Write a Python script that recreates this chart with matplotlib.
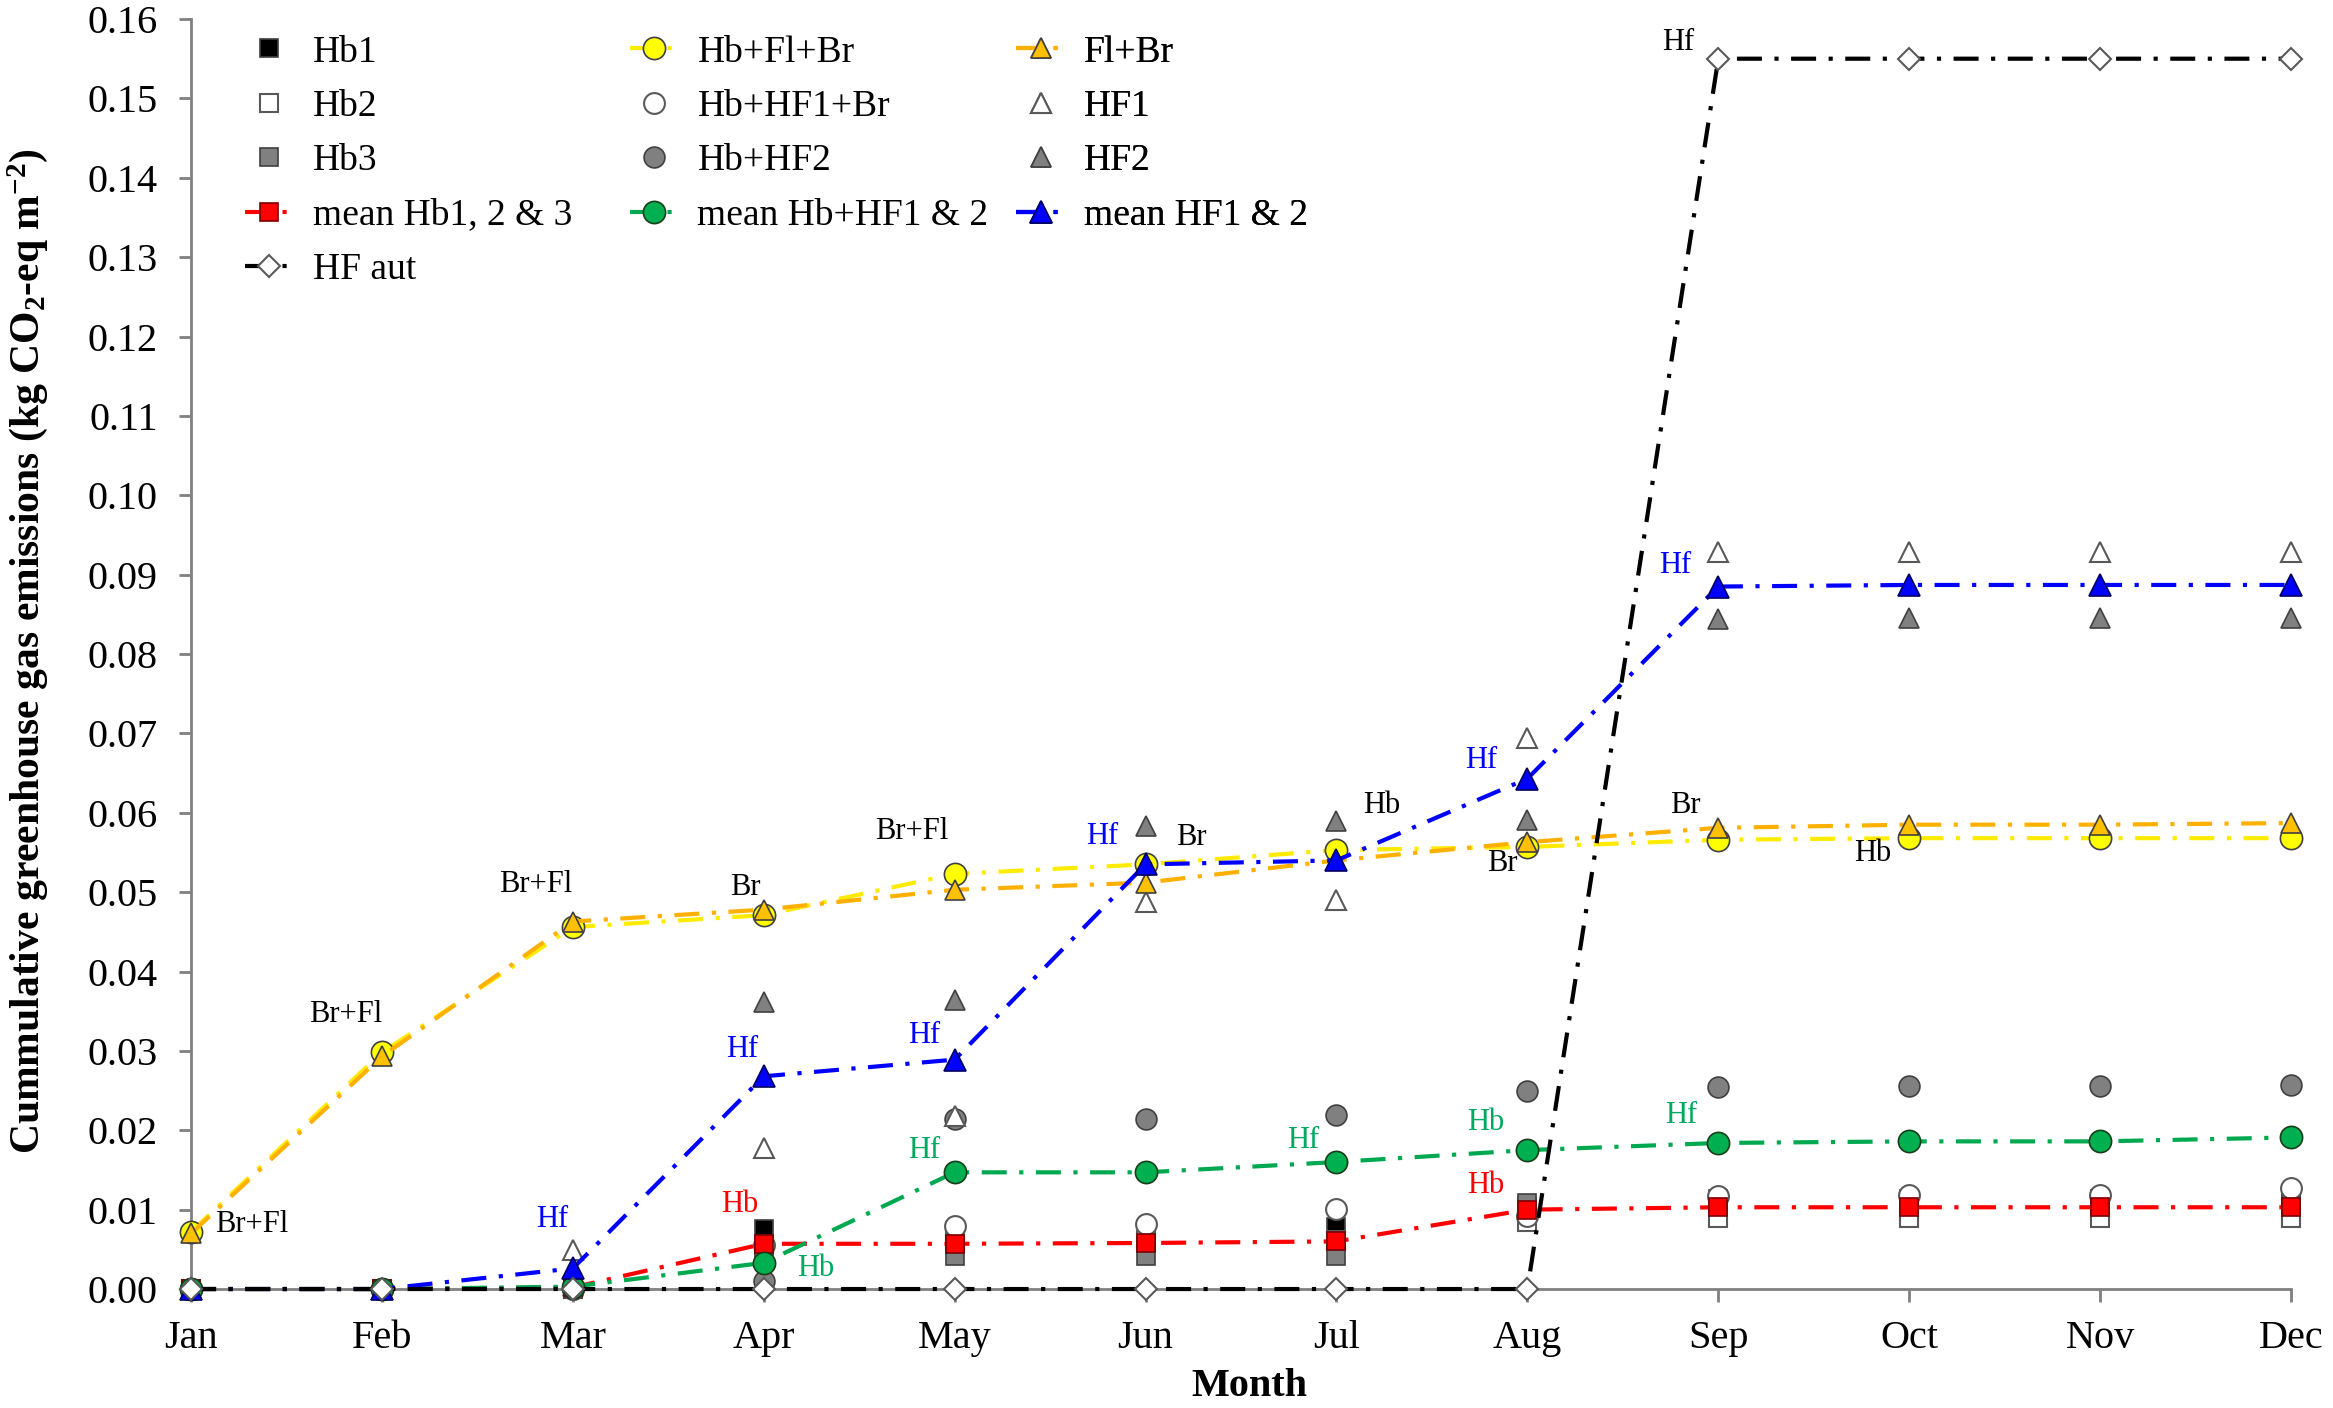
import matplotlib
matplotlib.use('Agg')
import matplotlib.pyplot as plt

plt.rcParams['font.family'] = ['Liberation Serif', 'DejaVu Serif']
plt.rcParams['mathtext.fontset'] = 'custom'
plt.rcParams['mathtext.rm'] = 'Liberation Serif:bold'
plt.rcParams['mathtext.bf'] = 'Liberation Serif:bold'
plt.rcParams['mathtext.default'] = 'rm'

months = ['Jan', 'Feb', 'Mar', 'Apr', 'May', 'Jun', 'Jul', 'Aug', 'Sep', 'Oct', 'Nov', 'Dec']

hb1 = [0, 0, 0, 0.0075, 0.0060, 0.0060, 0.0078, 0.0105, 0.0107, 0.0107, 0.0107, 0.0107]
hb2 = [0, 0, 0, 0.0055, 0.0062, 0.0062, 0.0062, 0.0085, 0.0090, 0.0090, 0.0090, 0.0090]
hb3 = [0, 0, 0, 0.0042, 0.0042, 0.0042, 0.0042, 0.0109, 0.0113, 0.0113, 0.0113, 0.0113]
mean_hb = [0, 0, 0.0002, 0.0057, 0.0057, 0.0058, 0.0060, 0.0100, 0.0103, 0.0103, 0.0103, 0.0103]
hb_fl_br = [0.0072, 0.0298, 0.0456, 0.0471, 0.0523, 0.0535, 0.0553, 0.0557, 0.0566, 0.0568, 0.0568, 0.0568]
hb_hf1_br = [0, 0, 0, 0.0055, 0.0079, 0.0082, 0.0101, 0.0092, 0.0117, 0.0119, 0.0119, 0.0127]
hb_hf2 = [0, 0, 0, 0.0010, 0.0214, 0.0214, 0.0219, 0.0249, 0.0255, 0.0256, 0.0256, 0.0257]
mean_hb_hf = [0, 0, 0.0003, 0.0033, 0.0147, 0.0147, 0.0160, 0.0175, 0.0184, 0.0186, 0.0186, 0.0191]
fl_br = [0.0070, 0.0293, 0.0463, 0.0478, 0.0503, 0.0512, 0.0540, 0.0563, 0.0581, 0.0585, 0.0585, 0.0587]
hf1 = [0, 0, 0.0049, 0.0178, 0.0218, 0.0488, 0.0490, 0.0694, 0.0929, 0.0929, 0.0929, 0.0929]
hf2 = [0, 0, 0.0004, 0.0362, 0.0364, 0.0583, 0.0589, 0.0591, 0.0844, 0.0845, 0.0845, 0.0845]
mean_hf = [0, 0, 0.0026, 0.0268, 0.0289, 0.0535, 0.0540, 0.0643, 0.0885, 0.0887, 0.0887, 0.0887]
hf_aut = [0, 0, 0, 0, 0, 0, 0, 0, 0.155, 0.155, 0.155, 0.155]

series = {
    'hb1': hb1, 'hb2': hb2, 'hb3': hb3, 'mean_hb': mean_hb,
    'hb_fl_br': hb_fl_br, 'hb_hf1_br': hb_hf1_br, 'hb_hf2': hb_hf2,
    'mean_hb_hf': mean_hb_hf, 'fl_br': fl_br, 'hf1': hf1, 'hf2': hf2,
    'mean_hf': mean_hf, 'hf_aut': hf_aut,
}

# annotations: text, series, month index, offset x px, offset y px, colour
notes = [
    ('Br+Fl', 'fl_br', 0, 61, 9, 'black'),
    ('Br+Fl', 'fl_br', 1, -36, 42, 'black'),
    ('Br+Fl', 'fl_br', 2, -37, 37, 'black'),
    ('Br', 'fl_br', 3, -18, 22, 'black'),
    ('Br+Fl', 'hb_fl_br', 4, -43, 42, 'black'),
    ('Hf', 'mean_hf', 5, -43, 28, '#0000FF'),
    ('Br', 'mean_hf', 5, 46, 27, 'black'),
    ('Hb', 'hb_fl_br', 6, 45, 45, 'black'),
    ('Hf', 'mean_hf', 7, -46, 18, '#0000FF'),
    ('Br', 'fl_br', 7, -25, -21, 'black'),
    ('Br', 'fl_br', 8, -33, 22, 'black'),
    ('Hb', 'hb_fl_br', 9, -36, -15, 'black'),
    ('Hf', 'mean_hf', 8, -43, 21, '#0000FF'),
    ('Hf', 'hf_aut', 8, -40, 16, 'black'),
    ('Hf', 'mean_hf', 2, -21, 49, '#0000FF'),
    ('Hf', 'mean_hf', 3, -22, 27, '#0000FF'),
    ('Hf', 'mean_hf', 4, -30, 24, '#0000FF'),
    ('Hb', 'mean_hb', 3, -24, 39, '#FF0000'),
    ('Hb', 'mean_hb_hf', 3, 52, -6, '#00A860'),
    ('Hf', 'mean_hb_hf', 4, -30, 22, '#00A860'),
    ('Hf', 'mean_hb_hf', 6, -33, 22, '#00A860'),
    ('Hb', 'mean_hb_hf', 7, -42, 28, '#00A860'),
    ('Hb', 'mean_hb', 7, -42, 24, '#FF0000'),
    ('Hf', 'mean_hb_hf', 8, -37, 27, '#00A860'),
]

fig = plt.figure(figsize=(23.33, 14.08), dpi=100)
ax = fig.add_axes([0.0819, 0.0845, 0.9001, 0.902])
x = list(range(len(months)))
dd = (0, (6, 3, 1, 3))
EC = '#404040'

h = {}
h['hb1'], = ax.plot(x, hb1, ls='none', marker='s', ms=13, mfc='black', mec=EC, mew=1.2, label='Hb1', clip_on=False, zorder=3)
h['hb2'], = ax.plot(x, hb2, ls='none', marker='s', ms=13, mfc='white', mec='#595959', mew=1.5, label='Hb2', clip_on=False, zorder=3)
h['hb3'], = ax.plot(x, hb3, ls='none', marker='s', ms=13, mfc='#808080', mec=EC, mew=1.2, label='Hb3', clip_on=False, zorder=3)
h['hb_hf1_br'], = ax.plot(x, hb_hf1_br, ls='none', marker='o', ms=15, mfc='white', mec='#595959', mew=1.5, label='Hb+HF1+Br', clip_on=False, zorder=3)
h['hb_hf2'], = ax.plot(x, hb_hf2, ls='none', marker='o', ms=15, mfc='#808080', mec=EC, mew=1.2, label='Hb+HF2', clip_on=False, zorder=3)
h['hf1'], = ax.plot(x, hf1, ls='none', marker='^', ms=14, mfc='white', mec='#595959', mew=1.5, label='HF1', clip_on=False, zorder=3)
h['hf2'], = ax.plot(x, hf2, ls='none', marker='^', ms=14, mfc='#808080', mec=EC, mew=1.2, label='HF2', clip_on=False, zorder=3)
h['hb_fl_br'], = ax.plot(x, hb_fl_br, ls=dd, lw=3, color='#FFEB00', marker='o', ms=16, mfc='#FFFF00', mec=EC, mew=1.2, label='Hb+Fl+Br', clip_on=False, zorder=4)
h['fl_br'], = ax.plot(x, fl_br, ls=dd, lw=3, color='#FFB000', marker='^', ms=14, mfc='#FFC000', mec=EC, mew=1.2, label='Fl+Br', clip_on=False, zorder=4)
h['mean_hb'], = ax.plot(x, mean_hb, ls=dd, lw=3, color='#FF0000', marker='s', ms=13, mfc='#FF0000', mec='#7a0000', mew=1.2, label='mean Hb1, 2 & 3', clip_on=False, zorder=5)
h['mean_hb_hf'], = ax.plot(x, mean_hb_hf, ls=dd, lw=3, color='#00A850', marker='o', ms=16, mfc='#00B050', mec='#1a3d1a', mew=1.2, label='mean Hb+HF1 & 2', clip_on=False, zorder=5)
h['mean_hf'], = ax.plot(x, mean_hf, ls=dd, lw=3, color='#0000FF', marker='^', ms=16, mfc='#0000FF', mec='#000060', mew=1.2, label='mean HF1 & 2', clip_on=False, zorder=5)
h['hf_aut'], = ax.plot(x, hf_aut, ls=dd, lw=3, color='black', marker='D', ms=11, mfc='white', mec='#595959', mew=1.5, label='HF aut', clip_on=False, zorder=6)

for txt, key, i, dx, dy, col in notes:
    ax.annotate(txt, (x[i], series[key][i]), xytext=(dx, dy), textcoords='offset pixels',
                ha='center', va='center', fontsize=22, color=col, zorder=7)

ax.set_xlim(0, 11)
ax.set_ylim(0, 0.16)
ax.set_xticks(x)
ax.set_xticklabels(months)
ax.set_yticks([i / 100 for i in range(17)])
ax.yaxis.set_major_formatter(matplotlib.ticker.FormatStrFormatter('%.2f'))
for s in ['top', 'right']:
    ax.spines[s].set_visible(False)
for s in ['left', 'bottom']:
    ax.spines[s].set_color('#808080')
    ax.spines[s].set_linewidth(2)
ax.tick_params(axis='both', colors='#808080', length=9, width=2, labelcolor='black', labelsize=29)
ax.tick_params(axis='y', pad=15)
ax.tick_params(axis='x', pad=13)

ax.set_ylabel(r'Cummulative greenhouse gas emissions (kg CO$_{2}$-eq m$^{-2}$)', fontsize=30, fontweight='bold')
ax.yaxis.set_label_coords(-0.067, 0.502)
ax.set_xlabel('Month', fontsize=29, fontweight='bold')
ax.xaxis.set_label_coords(0.504, -0.062)

columns = [
    (['hb1', 'hb2', 'hb3', 'mean_hb', 'hf_aut'], 0.0257),
    (['hb_fl_br', 'hb_hf1_br', 'hb_hf2', 'mean_hb_hf'], 0.209),
    (['fl_br', 'hf1', 'hf2', 'mean_hf'], 0.393),
]
for keys, xa in columns:
    leg = ax.legend([h[k] for k in keys], [h[k].get_label() for k in keys], loc='upper left',
                    bbox_to_anchor=(xa, 0.9874), frameon=False, fontsize=27, handlelength=1.3,
                    handletextpad=0.5, labelspacing=0.53, borderaxespad=0, borderpad=0, numpoints=1)
    ax.add_artist(leg)

fig.savefig('out.png', dpi=100)
